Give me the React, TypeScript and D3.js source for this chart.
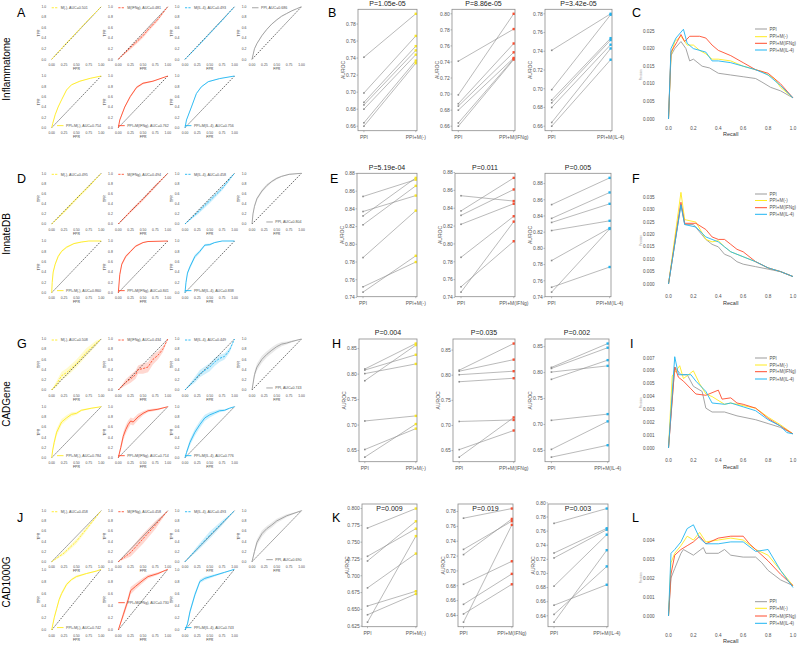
import React from "react";
import * as d3 from "d3";

const FONT = "'Liberation Sans', Arial, Helvetica, sans-serif";
const C_PPI = "#9b9b9b";
const C_M0 = "#FFEB1F";
const C_IFNG = "#FF4D2E";
const C_IL4 = "#1FB5F2";
const mColors = [C_M0, C_IFNG, C_IL4];
const prColors = [C_PPI, C_M0, C_IFNG, C_IL4];

const rowNames = ["Inflammatome", "InnateDB", "CADGene", "CAD1000G"];
const rocLetters = ["A", "D", "G", "J"];
const pairLetters = ["B", "E", "H", "K"];
const prLetters = ["C", "F", "I", "L"];
const seriesLabels = ["PPI", "PPI+M(-)", "PPI+M(IFNg)", "PPI+M(IL-4)"];
const mLabels = ["M(-)", "M(IFNg)", "M(IL-4)"];
const rocTicks = [0, 0.25, 0.5, 0.75, 1];
const rocXTickLabels = ["0.00", "0.25", "0.50", "0.75", "1.00"];
const rocYTickLabels = ["0.0", "0.2", "0.4", "0.6", "0.8", "1.0"];

// AUC values in legends
const aucM = [
  [0.501, 0.481, 0.493],
  [0.495, 0.494, 0.458],
  [0.508, 0.434, 0.449],
  [0.458, 0.458, 0.493],
];
const aucPPI = [0.686, 0.804, 0.743, 0.69];
const aucPPIM = [
  [0.754, 0.762, 0.756],
  [0.86, 0.841, 0.838],
  [0.784, 0.714, 0.776],
  [0.742, 0.73, 0.743],
];

// ROC curves: [FPR, TPR, band half-width]
type P3 = [number, number, number];
const rocA_M0: P3[] = [[0, 0, 0], [0.25, 0.26, 0.01], [0.5, 0.51, 0.01], [0.75, 0.76, 0.01], [1, 1, 0]];
const rocA_MIFNG: P3[] = [[0, 0, 0], [0.2, 0.18, 0.03], [0.4, 0.36, 0.04], [0.5, 0.45, 0.04], [0.6, 0.56, 0.04], [0.8, 0.76, 0.03], [1, 1, 0]];
const rocA_MIL4: P3[] = [[0, 0, 0], [0.25, 0.24, 0.015], [0.5, 0.49, 0.015], [0.75, 0.74, 0.015], [1, 1, 0]];
const rocA_PPI: P3[] = [[0, 0, 0], [0.05, 0.2, 0.01], [0.1, 0.3, 0.01], [0.2, 0.45, 0.01], [0.3, 0.57, 0.01], [0.4, 0.67, 0.01], [0.5, 0.75, 0.01], [0.6, 0.82, 0.01], [0.7, 0.87, 0.01], [0.8, 0.92, 0.01], [0.9, 0.96, 0.005], [1, 1, 0]];
const rocA_P0: P3[] = [[0, 0, 0], [0.02, 0.08, 0.01], [0.07, 0.25, 0.01], [0.13, 0.4, 0.01], [0.2, 0.54, 0.01], [0.3, 0.73, 0.01], [0.4, 0.83, 0.01], [0.57, 0.9, 0.01], [0.78, 0.955, 0.005], [1, 1, 0]];
const rocA_PIFNG: P3[] = [[0, 0, 0], [0.03, 0.15, 0.02], [0.13, 0.4, 0.02], [0.24, 0.6, 0.02], [0.37, 0.78, 0.02], [0.5, 0.86, 0.02], [0.7, 0.9, 0.01], [1, 1, 0]];
const rocA_PIL4: P3[] = [[0, 0, 0], [0.03, 0.15, 0.01], [0.13, 0.4, 0.01], [0.23, 0.66, 0.01], [0.33, 0.79, 0.01], [0.47, 0.89, 0.01], [0.7, 0.95, 0.005], [1, 1, 0]];

const rocD_M0: P3[] = [[0, 0, 0], [0.25, 0.24, 0.03], [0.5, 0.5, 0.03], [0.75, 0.74, 0.03], [1, 1, 0]];
const rocD_MIFNG: P3[] = [[0, 0, 0], [0.25, 0.25, 0.03], [0.5, 0.49, 0.03], [0.75, 0.75, 0.03], [1, 1, 0]];
const rocD_MIL4: P3[] = [[0, 0, 0], [0.25, 0.22, 0.04], [0.5, 0.46, 0.05], [0.75, 0.7, 0.04], [0.9, 0.88, 0.03], [1, 1, 0]];
const rocD_PPI: P3[] = [[0, 0, 0], [0.02, 0.2, 0.02], [0.05, 0.35, 0.03], [0.1, 0.5, 0.03], [0.2, 0.65, 0.03], [0.3, 0.76, 0.03], [0.4, 0.84, 0.02], [0.5, 0.9, 0.02], [0.6, 0.94, 0.01], [0.75, 0.98, 0.01], [1, 1, 0]];
const rocD_P0: P3[] = [[0, 0, 0], [0.01, 0.2, 0.02], [0.03, 0.4, 0.03], [0.07, 0.55, 0.03], [0.13, 0.7, 0.03], [0.2, 0.8, 0.02], [0.3, 0.88, 0.02], [0.45, 0.95, 0.01], [0.6, 0.98, 0.01], [0.75, 1, 0], [1, 1, 0]];
const rocD_PIFNG: P3[] = [[0, 0, 0], [0.03, 0.35, 0.03], [0.07, 0.55, 0.03], [0.15, 0.7, 0.03], [0.25, 0.8, 0.02], [0.35, 0.9, 0.02], [0.5, 0.97, 0.01], [0.6, 0.99, 0.005], [1, 1, 0]];
const rocD_PIL4: P3[] = [[0, 0, 0], [0.02, 0.2, 0.03], [0.05, 0.38, 0.03], [0.1, 0.5, 0.04], [0.2, 0.7, 0.04], [0.3, 0.8, 0.03], [0.4, 0.92, 0.02], [0.5, 0.93, 0.02], [0.6, 0.97, 0.01], [0.75, 1, 0], [1, 1, 0]];

const rocG_M0: P3[] = [[0, 0, 0], [0.1, 0.12, 0.06], [0.2, 0.28, 0.08], [0.3, 0.34, 0.08], [0.5, 0.52, 0.08], [0.7, 0.74, 0.08], [0.9, 0.92, 0.05], [1, 1, 0]];
const rocG_MIFNG: P3[] = [[0, 0, 0], [0.15, 0.15, 0.06], [0.25, 0.22, 0.08], [0.35, 0.3, 0.08], [0.4, 0.4, 0.08], [0.5, 0.42, 0.1], [0.6, 0.45, 0.1], [0.7, 0.6, 0.1], [0.8, 0.68, 0.08], [0.9, 0.8, 0.06], [1, 1, 0]];
const rocG_MIL4: P3[] = [[0, 0, 0], [0.2, 0.2, 0.06], [0.3, 0.32, 0.07], [0.5, 0.45, 0.08], [0.6, 0.55, 0.08], [0.7, 0.62, 0.07], [0.8, 0.66, 0.06], [0.9, 0.78, 0.05], [1, 1, 0]];
const rocG_PPI: P3[] = [[0, 0, 0], [0.05, 0.3, 0.06], [0.1, 0.45, 0.07], [0.2, 0.6, 0.07], [0.3, 0.7, 0.06], [0.4, 0.78, 0.06], [0.5, 0.85, 0.05], [0.6, 0.9, 0.04], [0.7, 0.92, 0.03], [0.8, 0.95, 0.02], [1, 1, 0]];
const rocG_P0: P3[] = [[0, 0, 0], [0.02, 0.15, 0.04], [0.05, 0.3, 0.06], [0.1, 0.5, 0.07], [0.15, 0.6, 0.07], [0.2, 0.7, 0.06], [0.3, 0.78, 0.05], [0.4, 0.85, 0.04], [0.5, 0.87, 0.03], [0.6, 0.93, 0.02], [0.8, 0.97, 0.01], [1, 1, 0]];
const rocG_PIFNG: P3[] = [[0, 0, 0], [0.05, 0.2, 0.06], [0.1, 0.42, 0.08], [0.15, 0.55, 0.08], [0.2, 0.65, 0.08], [0.25, 0.72, 0.07], [0.3, 0.7, 0.07], [0.4, 0.8, 0.06], [0.5, 0.87, 0.04], [0.6, 0.92, 0.03], [0.8, 0.95, 0.02], [1, 1, 0]];
const rocG_PIL4: P3[] = [[0, 0, 0], [0.03, 0.1, 0.04], [0.1, 0.3, 0.06], [0.2, 0.5, 0.07], [0.3, 0.65, 0.07], [0.4, 0.78, 0.06], [0.5, 0.84, 0.05], [0.6, 0.88, 0.04], [0.7, 0.92, 0.03], [0.8, 0.93, 0.02], [0.9, 0.97, 0.01], [1, 1, 0]];

const rocJ_M0: P3[] = [[0, 0, 0], [0.25, 0.17, 0.04], [0.5, 0.4, 0.05], [0.75, 0.7, 0.04], [1, 1, 0]];
const rocJ_MIFNG: P3[] = [[0, 0, 0], [0.25, 0.18, 0.08], [0.5, 0.45, 0.1], [0.75, 0.72, 0.08], [1, 1, 0]];
const rocJ_MIL4: P3[] = [[0, 0, 0], [0.25, 0.26, 0.05], [0.5, 0.52, 0.07], [0.75, 0.76, 0.05], [1, 1, 0]];
const rocJ_PPI: P3[] = [[0, 0, 0], [0.05, 0.2, 0.05], [0.1, 0.38, 0.06], [0.2, 0.55, 0.06], [0.3, 0.65, 0.05], [0.4, 0.72, 0.05], [0.5, 0.8, 0.04], [0.7, 0.9, 0.03], [1, 1, 0]];
const rocJ_P0: P3[] = [[0, 0, 0], [0.05, 0.2, 0.03], [0.1, 0.35, 0.03], [0.15, 0.5, 0.03], [0.2, 0.6, 0.03], [0.3, 0.75, 0.03], [0.4, 0.83, 0.02], [0.5, 0.88, 0.02], [0.7, 0.93, 0.01], [0.9, 0.97, 0.01], [1, 1, 0]];
const rocJ_PIFNG: P3[] = [[0, 0, 0], [0.1, 0.25, 0.05], [0.2, 0.5, 0.06], [0.25, 0.65, 0.06], [0.35, 0.72, 0.05], [0.5, 0.82, 0.04], [0.6, 0.88, 0.03], [0.8, 0.93, 0.02], [1, 1, 0]];
const rocJ_PIL4: P3[] = [[0, 0, 0], [0.05, 0.1, 0.03], [0.1, 0.3, 0.04], [0.2, 0.58, 0.04], [0.3, 0.8, 0.03], [0.4, 0.85, 0.03], [0.6, 0.9, 0.02], [0.8, 0.95, 0.01], [1, 1, 0]];

const rocM = [
  [rocA_M0, rocA_MIFNG, rocA_MIL4],
  [rocD_M0, rocD_MIFNG, rocD_MIL4],
  [rocG_M0, rocG_MIFNG, rocG_MIL4],
  [rocJ_M0, rocJ_MIFNG, rocJ_MIL4],
];
const rocPPI = [rocA_PPI, rocD_PPI, rocG_PPI, rocJ_PPI];
const rocPPIM = [
  [rocA_P0, rocA_PIFNG, rocA_PIL4],
  [rocD_P0, rocD_PIFNG, rocD_PIL4],
  [rocG_P0, rocG_PIFNG, rocG_PIL4],
  [rocJ_P0, rocJ_PIFNG, rocJ_PIL4],
];

// Paired AUROC values (PPI baseline, then PPI+M per column)
const ppiAUROC = [
  [0.741, 0.699, 0.688, 0.685, 0.68, 0.664, 0.66],
  [0.854, 0.837, 0.832, 0.822, 0.785, 0.752, 0.746],
  [0.81, 0.808, 0.801, 0.787, 0.708, 0.652, 0.637],
  [0.771, 0.729, 0.722, 0.682, 0.655, 0.642, 0.631],
];
const pmAUROC = [
  [
    [0.792, 0.766, 0.754, 0.749, 0.744, 0.737, 0.734],
    [0.781, 0.8, 0.763, 0.752, 0.745, 0.744, 0.743],
    [0.78, 0.779, 0.754, 0.752, 0.747, 0.743, 0.731],
  ],
  [
    [0.873, 0.855, 0.875, 0.866, 0.838, 0.78, 0.787],
    [0.848, 0.874, 0.861, 0.845, 0.831, 0.803, 0.825],
    [0.887, 0.869, 0.855, 0.834, 0.825, 0.777, 0.824],
  ],
  [
    [0.86, 0.838, 0.82, 0.857, 0.718, 0.693, 0.702],
    [0.863, 0.831, 0.808, 0.794, 0.711, 0.69, 0.716],
    [0.856, 0.848, 0.813, 0.824, 0.72, 0.706, 0.66],
  ],
  [
    [0.8, 0.77, 0.781, 0.733, 0.677, 0.673, 0.759],
    [0.784, 0.767, 0.77, 0.713, 0.696, 0.682, 0.762],
    [0.792, 0.764, 0.762, 0.755, 0.684, 0.71, 0.733],
  ],
];
const pTitles = [
  ["P=1.05e-05", "P=8.86e-05", "P=3.42e-05"],
  ["P=5.19e-04", "P=0.011", "P=0.005"],
  ["P=0.004", "P=0.035", "P=0.002"],
  ["P=0.009", "P=0.019", "P=0.003"],
];
const pairTicks = [
  [
    [0.66, 0.68, 0.7, 0.72, 0.74, 0.76, 0.78],
    [0.66, 0.68, 0.7, 0.72, 0.74, 0.76, 0.78, 0.8],
    [0.66, 0.68, 0.7, 0.72, 0.74, 0.76, 0.78],
  ],
  [
    [0.74, 0.76, 0.78, 0.8, 0.82, 0.84, 0.86, 0.88],
    [0.74, 0.76, 0.78, 0.8, 0.82, 0.84, 0.86, 0.88],
    [0.74, 0.76, 0.78, 0.8, 0.82, 0.84, 0.86, 0.88],
  ],
  [
    [0.65, 0.7, 0.75, 0.8, 0.85],
    [0.65, 0.7, 0.75, 0.8, 0.85],
    [0.65, 0.7, 0.75, 0.8, 0.85],
  ],
  [
    [0.625, 0.65, 0.675, 0.7, 0.725, 0.75, 0.775, 0.8],
    [0.64, 0.66, 0.68, 0.7, 0.72, 0.74, 0.76, 0.78],
    [0.64, 0.66, 0.68, 0.7, 0.72, 0.74, 0.76, 0.78, 0.8],
  ],
];
const pairTickDigits = [[2, 2, 2], [2, 2, 2], [2, 2, 2], [3, 2, 2]];

// Precision-recall curves: [recall, precision]
type P2 = [number, number];
const prC_PPI: P2[] = [[0, 0], [0.02, 0.018], [0.05, 0.02], [0.1, 0.022], [0.14, 0.02], [0.17, 0.0165], [0.2, 0.017], [0.27, 0.015], [0.33, 0.0145], [0.4, 0.013], [0.5, 0.0125], [0.6, 0.012], [0.7, 0.0115], [0.75, 0.0105], [0.82, 0.009], [0.9, 0.008], [1, 0.006]];
const prC_M0: P2[] = [[0, 0], [0.02, 0.018], [0.05, 0.022], [0.1, 0.0235], [0.15, 0.021], [0.2, 0.021], [0.25, 0.0195], [0.3, 0.0185], [0.35, 0.017], [0.4, 0.017], [0.5, 0.0165], [0.6, 0.015], [0.65, 0.0145], [0.75, 0.0135], [0.85, 0.0115], [0.9, 0.009], [1, 0.006]];
const prC_IFNG: P2[] = [[0, 0], [0.02, 0.019], [0.07, 0.022], [0.1, 0.024], [0.13, 0.022], [0.17, 0.0235], [0.25, 0.0235], [0.3, 0.023], [0.35, 0.021], [0.4, 0.0195], [0.5, 0.018], [0.6, 0.016], [0.7, 0.014], [0.8, 0.013], [0.9, 0.01], [1, 0.006]];
const prC_IL4: P2[] = [[0, 0], [0.02, 0.02], [0.06, 0.023], [0.12, 0.0255], [0.15, 0.0215], [0.2, 0.02], [0.3, 0.019], [0.35, 0.0165], [0.4, 0.0165], [0.5, 0.016], [0.6, 0.015], [0.7, 0.014], [0.8, 0.0125], [0.9, 0.0095], [1, 0.006]];

const prF_PPI: P2[] = [[0, 0], [0.1, 0.032], [0.13, 0.024], [0.2, 0.024], [0.25, 0.021], [0.3, 0.018], [0.35, 0.016], [0.4, 0.015], [0.45, 0.012], [0.5, 0.011], [0.55, 0.009], [0.6, 0.008], [0.7, 0.007], [0.8, 0.006], [0.9, 0.005], [1, 0.003]];
const prF_M0: P2[] = [[0, 0], [0.1, 0.037], [0.13, 0.026], [0.22, 0.025], [0.3, 0.018], [0.35, 0.017], [0.4, 0.0175], [0.45, 0.015], [0.5, 0.013], [0.6, 0.011], [0.7, 0.009], [0.8, 0.0065], [0.9, 0.005], [1, 0.003]];
const prF_IFNG: P2[] = [[0, 0], [0.1, 0.033], [0.13, 0.0245], [0.22, 0.0245], [0.3, 0.022], [0.35, 0.019], [0.4, 0.018], [0.45, 0.018], [0.5, 0.016], [0.55, 0.014], [0.6, 0.013], [0.7, 0.009], [0.8, 0.0065], [0.9, 0.005], [1, 0.003]];
const prF_IL4: P2[] = [[0, 0], [0.1, 0.032], [0.13, 0.024], [0.22, 0.023], [0.3, 0.019], [0.35, 0.018], [0.4, 0.017], [0.45, 0.015], [0.5, 0.013], [0.6, 0.011], [0.7, 0.009], [0.8, 0.0065], [0.9, 0.005], [1, 0.003]];

const prI_PPI: P2[] = [[0, 0], [0.05, 0.0063], [0.1, 0.0057], [0.15, 0.0057], [0.2, 0.0048], [0.27, 0.0044], [0.3, 0.0031], [0.35, 0.0028], [0.45, 0.0028], [0.55, 0.0025], [0.7, 0.0022], [0.8, 0.0019], [0.9, 0.0016], [1, 0.0011]];
const prI_M0: P2[] = [[0, 0], [0.03, 0.0056], [0.09, 0.0064], [0.12, 0.0054], [0.2, 0.006], [0.25, 0.005], [0.3, 0.0042], [0.35, 0.004], [0.45, 0.0034], [0.5, 0.0035], [0.6, 0.0033], [0.7, 0.0031], [0.8, 0.0024], [0.9, 0.0018], [1, 0.0011]];
const prI_IFNG: P2[] = [[0, 0], [0.05, 0.0063], [0.08, 0.0055], [0.12, 0.0052], [0.18, 0.0046], [0.22, 0.0042], [0.3, 0.0041], [0.4, 0.0045], [0.43, 0.0038], [0.5, 0.0039], [0.55, 0.0035], [0.6, 0.0034], [0.7, 0.0031], [0.8, 0.0023], [0.9, 0.0017], [1, 0.0011]];
const prI_IL4: P2[] = [[0, 0], [0.05, 0.0071], [0.08, 0.0057], [0.18, 0.0057], [0.22, 0.0052], [0.3, 0.0044], [0.35, 0.0035], [0.45, 0.0034], [0.5, 0.0035], [0.6, 0.0032], [0.7, 0.0029], [0.8, 0.0022], [0.9, 0.0017], [0.95, 0.0012], [1, 0.0011]];

const prL_PPI: P2[] = [[0, 0], [0.02, 0.002], [0.05, 0.0025], [0.1, 0.0033], [0.12, 0.0035], [0.2, 0.0032], [0.28, 0.0036], [0.3, 0.0033], [0.4, 0.0033], [0.45, 0.0035], [0.5, 0.0032], [0.6, 0.0031], [0.7, 0.0031], [0.75, 0.0028], [0.8, 0.0024], [0.9, 0.0019], [1, 0.0016]];
const prL_M0: P2[] = [[0, 0], [0.02, 0.0028], [0.05, 0.0033], [0.1, 0.0037], [0.15, 0.0042], [0.2, 0.004], [0.25, 0.0044], [0.3, 0.0039], [0.4, 0.004], [0.5, 0.0041], [0.6, 0.004], [0.7, 0.0035], [0.8, 0.0032], [0.9, 0.0024], [1, 0.0016]];
const prL_IFNG: P2[] = [[0, 0], [0.02, 0.0022], [0.05, 0.0032], [0.1, 0.0035], [0.15, 0.0037], [0.2, 0.0039], [0.25, 0.0042], [0.3, 0.0038], [0.4, 0.0041], [0.5, 0.0042], [0.6, 0.0042], [0.65, 0.0038], [0.7, 0.0035], [0.8, 0.0029], [0.9, 0.0022], [1, 0.0016]];
const prL_IL4: P2[] = [[0, 0], [0.02, 0.0033], [0.05, 0.0035], [0.1, 0.0039], [0.15, 0.0046], [0.2, 0.0048], [0.25, 0.0041], [0.3, 0.0038], [0.4, 0.0038], [0.5, 0.0039], [0.6, 0.0039], [0.7, 0.0034], [0.8, 0.0035], [0.9, 0.0024], [1, 0.0015]];

const prCurves = [
  [prC_PPI, prC_M0, prC_IFNG, prC_IL4],
  [prF_PPI, prF_M0, prF_IFNG, prF_IL4],
  [prI_PPI, prI_M0, prI_IFNG, prI_IL4],
  [prL_PPI, prL_M0, prL_IFNG, prL_IL4],
];
const prYTicks = [
  [0, 0.005, 0.01, 0.015, 0.02, 0.025],
  [0, 0.005, 0.01, 0.015, 0.02, 0.025, 0.03, 0.035],
  [0, 0.001, 0.002, 0.003, 0.004, 0.005, 0.006, 0.007],
  [0, 0.001, 0.002, 0.003, 0.004],
];
const prXTicks = [0, 0.2, 0.4, 0.6, 0.8, 1];

// ---------- layout ----------
const rocColX = [51.7, 118.3, 185, 252];
const rocW = 49.5;
const rocRowY = [
  [6.7, 59.3, 76, 127.7],
  [173.3, 224, 241, 292.7],
  [339, 390, 406.7, 457.7],
  [510.7, 561.7, 569.3, 630],
];
const rowLabelY = [69, 234, 404, 582];
const rocLetterY = [17, 183, 348, 522];
const pairBoxes = [
  [[358, 417], [452, 515], [545, 612]],
  [[357, 417], [455, 515], [545, 611]],
  [[359, 417], [453, 515], [545, 609]],
  [[362, 417], [458, 513], [548, 608]],
];
const pairY = [[9.3, 130.7], [173.3, 296.7], [339, 461.7], [504, 626.7]];
const pairTitleY = [6, 169.5, 335, 511];
const pairLetterPos = [[328, 17], [330, 183], [332, 348], [332, 522]];
const prX = [668.5, 793];
const prY = [[119, 31], [284, 197.3], [448, 358], [616, 540]];
const prXLabGap = [9, 12.7, 12.7, 19];
const prLetterPos = [[632, 17], [632, 183], [630, 348], [632, 522]];
const prLegendY = [[29, 36.7, 43.3, 50], [194, 200.5, 207.7, 214.3], [358, 365, 371.7, 379], [601.7, 608.3, 616, 623.3]];

function RocPanel(props: {
  x0: number; y1: number; y0: number; data: P3[]; color: string; dashed: boolean;
  legend: string; legendPos: "top" | "bottom" | "mid";
}) {
  const { x0, y1, y0, data, color, dashed, legend, legendPos } = props;
  const x = d3.scaleLinear().domain([0, 1]).range([x0, x0 + rocW]);
  const y = d3.scaleLinear().domain([0, 1]).range([y0, y1]);
  const line = d3.line<P3>().x((d) => x(d[0])).y((d) => y(d[1]));
  const area = d3
    .area<P3>()
    .x((d) => x(d[0]))
    .y0((d) => y(Math.max(0, d[1] - d[2])))
    .y1((d) => y(Math.min(1, d[1] + d[2])));
  const fs = 3.4;
  const lfs = 3.6;
  const textW = legend.length * lfs * 0.5;
  let lx = 0, ly = 0, tx = 0;
  if (legendPos === "top") { lx = x(0.0); ly = y(0.98); tx = lx + 9; }
  else if (legendPos === "bottom") { tx = x(0.98) - textW; lx = tx - 9; ly = y(0.04); }
  else { lx = x(0.0); ly = y(0.45); tx = lx + 9; }
  return (
    <g>
      <path d={area(data) || ""} fill={color} opacity={0.22} />
      <line x1={x(0)} y1={y(0)} x2={x(1)} y2={y(1)} stroke="#000" strokeWidth={0.6} strokeDasharray="1.6,1.2" />
      <path d={line(data) || ""} fill="none" stroke={color} strokeWidth={0.9} strokeDasharray={dashed ? "2.2,1.2" : undefined} />
      {rocTicks.map((t, i) => (
        <text key={"x" + i} x={x(t)} y={y0 + 6.5} fontSize={fs} textAnchor="middle" fill="#4d4d4d">{rocXTickLabels[i]}</text>
      ))}
      {[0, 0.2, 0.4, 0.6, 0.8, 1].map((t, i) => (
        <text key={"y" + i} x={x0 - 5.5} y={y(t) + 1.2} fontSize={fs} textAnchor="end" fill="#4d4d4d">{rocYTickLabels[i]}</text>
      ))}
      <text x={x(0.5)} y={y0 + 10.5} fontSize={fs} textAnchor="middle" fill="#333">FPR</text>
      <text transform={`translate(${x0 - 12},${(y0 + y1) / 2}) rotate(-90)`} fontSize={fs} textAnchor="middle" fill="#333">TPR</text>
      <line x1={lx} x2={lx + 6.5} y1={ly} y2={ly} stroke={color} strokeWidth={0.9} strokeDasharray={dashed ? "2.2,1.2" : undefined} />
      <text x={tx} y={ly + 1.2} fontSize={lfs} fill="#4d4d4d">{legend}</text>
    </g>
  );
}

function PairPanel(props: {
  l: number; r: number; t: number; b: number; ppi: number[]; pm: number[]; color: string;
  ticks: number[]; digits: number; title: string; titleY: number; xlab: string;
}) {
  const { l, r, t, b, ppi, pm, color, ticks, digits, title, titleY, xlab } = props;
  const all = ppi.concat(pm);
  const [mn, mx] = d3.extent(all) as [number, number];
  const pad = (mx - mn) * 0.04;
  const y = d3.scaleLinear().domain([mn - pad, mx + pad]).range([b, t]);
  const x = d3.scaleLinear().domain([0.886, 2.023]).range([l, r]);
  const fs = 5;
  return (
    <g>
      {ppi.map((v, i) => (
        <line key={"l" + i} x1={x(1)} y1={y(v)} x2={x(2)} y2={y(pm[i])} stroke="#8c8c8c" strokeWidth={0.6} />
      ))}
      {ppi.map((v, i) => (
        <rect key={"p" + i} x={x(1) - 0.8} y={y(v) - 0.8} width={1.6} height={1.6} fill="#8c8c8c" />
      ))}
      {pm.map((v, i) => (
        <rect key={"m" + i} x={x(2) - 1.2} y={y(v) - 1.2} width={2.4} height={2.4} fill={color} />
      ))}
      <rect x={l} y={t} width={r - l} height={b - t} fill="none" stroke="#8c8c8c" strokeWidth={0.8} />
      {ticks.map((tv, i) => (
        <g key={"t" + i}>
          <line x1={l - 1.5} x2={l} y1={y(tv)} y2={y(tv)} stroke="#8c8c8c" strokeWidth={0.6} />
          <text x={l - 2.2} y={y(tv) + 1.8} fontSize={fs} textAnchor="end" fill="#555">{tv.toFixed(digits)}</text>
        </g>
      ))}
      <line x1={x(1)} x2={x(1)} y1={b} y2={b + 1.5} stroke="#8c8c8c" strokeWidth={0.6} />
      <line x1={x(2)} x2={x(2)} y1={b} y2={b + 1.5} stroke="#8c8c8c" strokeWidth={0.6} />
      <text x={x(1)} y={b + 8} fontSize={fs} textAnchor="middle" fill="#555">PPI</text>
      <text x={x(2)} y={b + 8} fontSize={fs} textAnchor="middle" fill="#555">{xlab}</text>
      <text transform={`translate(${l - 13},${(t + b) / 2}) rotate(-90)`} fontSize={fs} textAnchor="middle" fill="#555">AUROC</text>
      <text x={(l + r) / 2} y={titleY} fontSize={7} textAnchor="middle" fill="#222">{title}</text>
    </g>
  );
}

function PRPanel(props: { row: number }) {
  const { row } = props;
  const ticks = prYTicks[row];
  const ymax = ticks[ticks.length - 1];
  const [yb, yt] = prY[row];
  const x = d3.scaleLinear().domain([0, 1]).range(prX);
  const y = d3.scaleLinear().domain([0, ymax]).range([yb, yt]);
  const line = d3.line<P2>().x((d) => x(d[0])).y((d) => y(d[1])).curve(d3.curveLinear);
  const fs = 4.6;
  const gap = prXLabGap[row];
  return (
    <g>
      {prCurves[row].map((c, i) => (
        <path key={i} d={line(c) || ""} fill="none" stroke={prColors[i]} strokeWidth={0.9} />
      ))}
      {ticks.map((tv, i) => (
        <text key={"y" + i} x={prX[0] - 14} y={y(tv) + 1.6} fontSize={fs} textAnchor="end" fill="#4d4d4d">{tv.toFixed(3)}</text>
      ))}
      {prXTicks.map((tv, i) => (
        <text key={"x" + i} x={x(tv)} y={yb + gap + 1.5} fontSize={fs} textAnchor="middle" fill="#4d4d4d">{tv.toFixed(1)}</text>
      ))}
      <text x={x(0.5)} y={yb + gap + 8} fontSize={5.5} textAnchor="middle" fill="#333">Recall</text>
      <text transform={`translate(${prX[0] - 27},${(yb + yt) / 2}) rotate(-90)`} fontSize={2.6} textAnchor="middle" fill="#999">Precision</text>
      {seriesLabels.map((s, i) => (
        <g key={"lg" + i}>
          <line x1={755} x2={767} y1={prLegendY[row][i]} y2={prLegendY[row][i]} stroke={prColors[i]} strokeWidth={1} />
          <text x={769.5} y={prLegendY[row][i] + 1.6} fontSize={4.5} fill="#4d4d4d">{s}</text>
        </g>
      ))}
      <text x={prLetterPos[row][0]} y={prLetterPos[row][1]} fontSize={12.5} fill="#000">{prLetters[row]}</text>
    </g>
  );
}

export default function App() {
  return (
    <svg width={797} height={645} style={{ position: "absolute", left: 0, top: 0, background: "#fff" }} fontFamily={FONT}>
      <rect width={797} height={645} fill="#fff" />
      {rowNames.map((name, r) => {
        const [ty1, ty0, by1, by0] = rocRowY[r];
        return (
          <g key={r}>
            <text transform={`translate(10,${rowLabelY[r]}) rotate(-90)`} fontSize={10} textAnchor="middle" fill="#000">{name}</text>
            <text x={17} y={rocLetterY[r]} fontSize={12.5} fill="#000">{rocLetters[r]}</text>
            {mLabels.map((m, c) => (
              <RocPanel key={"m" + c} x0={rocColX[c]} y1={ty1} y0={ty0} data={rocM[r][c]} color={mColors[c]} dashed={true}
                legend={`${m}, AUC=${aucM[r][c].toFixed(3)}`} legendPos="top" />
            ))}
            <RocPanel x0={rocColX[3]} y1={ty1} y0={ty0} data={rocPPI[r]} color={C_PPI} dashed={false}
              legend={`PPI, AUC=${aucPPI[r].toFixed(3)}`} legendPos={r === 0 ? "top" : "bottom"} />
            {mLabels.map((m, c) => (
              <RocPanel key={"p" + c} x0={rocColX[c]} y1={by1} y0={by0} data={rocPPIM[r][c]} color={mColors[c]} dashed={false}
                legend={`${seriesLabels[c + 1]}, AUC=${aucPPIM[r][c].toFixed(3)}`} legendPos={r === 3 && c === 1 ? "mid" : "bottom"} />
            ))}
            <text x={pairLetterPos[r][0]} y={pairLetterPos[r][1]} fontSize={12.5} fill="#000">{pairLetters[r]}</text>
            {mLabels.map((m, c) => (
              <PairPanel key={"pair" + c} l={pairBoxes[r][c][0]} r={pairBoxes[r][c][1]} t={pairY[r][0]} b={pairY[r][1]}
                ppi={ppiAUROC[r]} pm={pmAUROC[r][c]} color={mColors[c]} ticks={pairTicks[r][c]} digits={pairTickDigits[r][c]}
                title={pTitles[r][c]} titleY={pairTitleY[r]} xlab={seriesLabels[c + 1]} />
            ))}
            <PRPanel row={r} />
          </g>
        );
      })}
    </svg>
  );
}
